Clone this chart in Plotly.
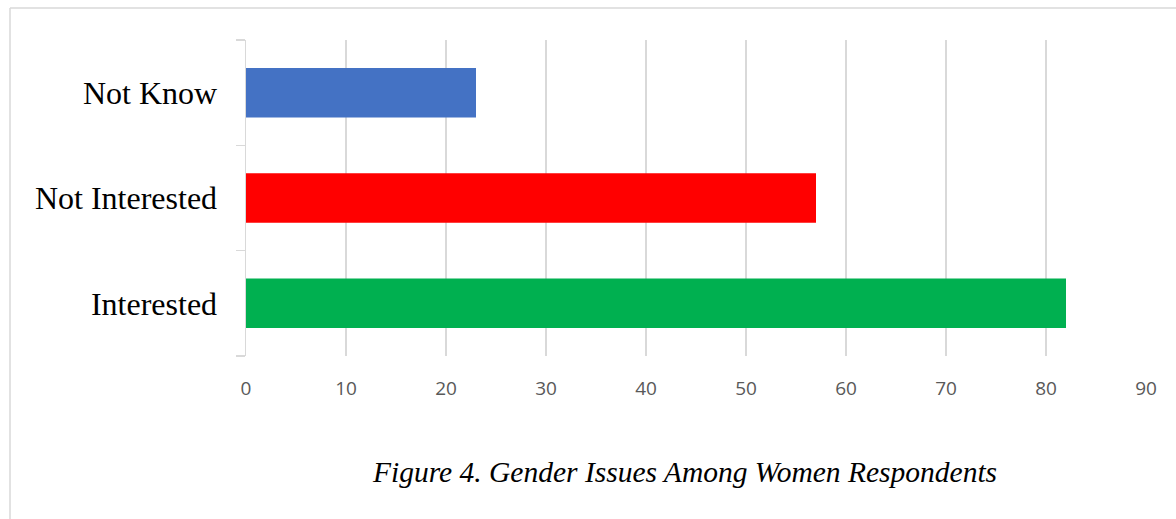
import plotly.graph_objects as go

categories = ["Interested", "Not Interested", "Not Know"]
values = [82, 57, 23]
bar_colors = ["#00B050", "#FF0000", "#4472C4"]
x_ticks = [0, 10, 20, 30, 40, 50, 60, 70, 80, 90]
caption = "Figure 4. Gender Issues Among Women Respondents"

W, H = 1176, 519
L, R, T, B = 246, 30, 40, 163
pw, ph = W - L - R, H - T - B

def px_x(px):
    return (px - L) / pw

def px_y(py):
    return (H - B - py) / ph

fig = go.Figure(go.Bar(
    x=values, y=categories, orientation="h",
    marker=dict(color=bar_colors, line=dict(width=0)),
    hoverinfo="skip",
))

fig.update_layout(
    width=W, height=H,
    margin=dict(l=L, r=R, t=T, b=B, autoexpand=False),
    paper_bgcolor="white", plot_bgcolor="white",
    bargap=0.53,
    showlegend=False,
    xaxis=dict(
        range=[0, 90], tickvals=x_ticks, showgrid=True, gridcolor="#d9d9d9", gridwidth=1.5,
        zeroline=False, showline=False, ticks="",
        tickfont=dict(family="Open Sans", size=19, color="#595959"),
        ticklabelstandoff=19, fixedrange=True,
    ),
    yaxis=dict(
        categoryorder="array", categoryarray=categories,
        showline=True, linecolor="#d9d9d9", linewidth=1.5,
        ticks="outside", tickson="boundaries", ticklen=9, tickcolor="#d9d9d9", tickwidth=1.5,
        showgrid=False, zeroline=False,
        tickfont=dict(family="Liberation Serif", size=32, color="black"),
        ticklabelstandoff=21, fixedrange=True,
    ),
    shapes=[
        dict(type="line", xref="paper", yref="paper", x0=px_x(10), x1=px_x(W + 5),
             y0=px_y(8), y1=px_y(8), line=dict(color="#d9d9d9", width=1.5)),
        dict(type="line", xref="paper", yref="paper", x0=px_x(10), x1=px_x(10),
             y0=px_y(8), y1=px_y(H + 5), line=dict(color="#d9d9d9", width=1.5)),
    ],
    annotations=[dict(
        text=caption, xref="paper", yref="paper", x=px_x(684), y=px_y(472),
        xanchor="center", yanchor="middle", showarrow=False,
        font=dict(family="Liberation Serif", size=29.5, color="black", style="italic"),
    )],
)

fig.write_html("out.html", config={"displayModeBar": False, "staticPlot": True},
               post_script="document.body.style.margin='0';")
